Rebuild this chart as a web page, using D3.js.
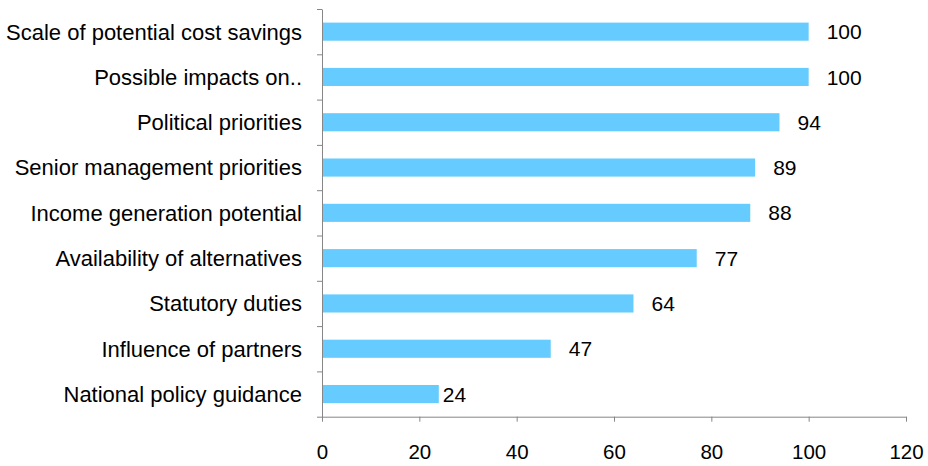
<!DOCTYPE html>
<html>
<head>
<meta charset="utf-8">
<script src="https://cdn.jsdelivr.net/npm/d3@7"></script>
<style>
  html, body { margin: 0; padding: 0; background: #fff; }
  svg { display: block; }
  text { font-family: "Liberation Sans", Arial, sans-serif; fill: #000; }
</style>
</head>
<body>
<svg id="chart" width="928" height="466"></svg>
<script>
// Factors ranked by score (top to bottom)
const categories = [
  "Scale of potential cost savings",
  "Possible impacts on..",
  "Political priorities",
  "Senior management priorities",
  "Income generation potential",
  "Availability of alternatives",
  "Statutory duties",
  "Influence of partners",
  "National policy guidance"
];
const scores = [100, 100, 94, 89, 88, 77, 64, 47, 24];
const xTicks = [0, 20, 40, 60, 80, 100, 120];

const width = 928, height = 466;
const margin = { top: 9, right: 22, bottom: 49.3, left: 322 };
const labelFont = 22;
const valueFont = 21;
const tickFont = 20.5;
const axisColor = "#868686";
const barColor = "#66CCFF";

// Per-label horizontal nudge (px) for value labels
const labelNudge = { "National policy guidance": -14 };

const svg = d3.select("#chart");

const x = d3.scaleLinear()
  .domain([0, 120])
  .range([margin.left, width - margin.right]);

const y = d3.scaleBand()
  .domain(categories)
  .range([margin.top, height - margin.bottom])
  .paddingInner(0.6)
  .paddingOuter(0.3);

// Category boundary scale for the y-axis tick marks
const yEdges = d3.scaleLinear()
  .domain([0, categories.length])
  .range([margin.top, height - margin.bottom]);

// Bars
svg.append("g")
  .selectAll("rect")
  .data(categories)
  .join("rect")
  .attr("x", x(0))
  .attr("y", d => y(d))
  .attr("width", (d, i) => x(scores[i]) - x(0))
  .attr("height", y.bandwidth())
  .attr("fill", barColor);

// Value labels
svg.append("g")
  .selectAll("text")
  .data(categories)
  .join("text")
  .attr("x", (d, i) => x(scores[i]) + 18 + (labelNudge[d] || 0))
  .attr("y", d => y(d) + y.bandwidth() / 2)
  .attr("dy", "0.36em")
  .attr("font-size", valueFont)
  .text((d, i) => scores[i]);

// Y axis: line with ticks at category boundaries
const yAxis = svg.append("g")
  .attr("transform", `translate(${margin.left},0)`)
  .call(d3.axisLeft(yEdges)
    .tickValues(d3.range(0, categories.length + 1))
    .tickSize(5)
    .tickSizeOuter(0)
    .tickFormat(""));
yAxis.selectAll("path, line").attr("stroke", axisColor);

// Category labels
svg.append("g")
  .selectAll("text")
  .data(categories)
  .join("text")
  .attr("x", margin.left - 20)
  .attr("y", d => y(d) + y.bandwidth() / 2)
  .attr("dy", "0.36em")
  .attr("text-anchor", "end")
  .attr("font-size", labelFont)
  .text(d => d);

// X axis
const xAxis = svg.append("g")
  .attr("transform", `translate(0,${height - margin.bottom})`)
  .call(d3.axisBottom(x)
    .tickValues(xTicks)
    .tickSize(5)
    .tickSizeOuter(0)
    .tickPadding(23));
xAxis.selectAll("path, line").attr("stroke", axisColor);
xAxis.selectAll("text")
  .attr("font-size", tickFont)
  .attr("font-family", "Liberation Sans, Arial, sans-serif")
  .attr("fill", "#000");
</script>
</body>
</html>
